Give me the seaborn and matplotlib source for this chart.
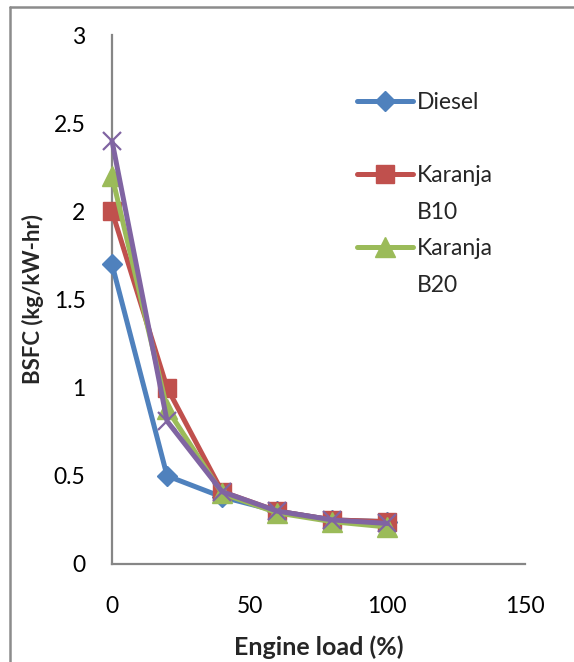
import matplotlib
matplotlib.use("Agg")
import matplotlib.pyplot as plt
from matplotlib.lines import Line2D
import seaborn as sns
import pandas as pd

# ---- data ----
engine_load = [0, 20, 40, 60, 80, 100]
diesel = [1.70, 0.50, 0.38, 0.30, 0.25, 0.24]
karanja_b10 = [2.00, 1.00, 0.41, 0.30, 0.25, 0.24]
karanja_b20 = [2.20, 0.88, 0.40, 0.29, 0.24, 0.21]
karanja_b30 = [2.40, 0.81, 0.41, 0.30, 0.25, 0.23]
x_ticks = [0, 50, 100, 150]
y_ticks = [0, 0.5, 1, 1.5, 2, 2.5, 3]
y_tick_labels = ["0", "0.5", "1", "1.5", "2", "2.5", "3"]

sns.set_theme(style="white")
plt.rcParams["font.family"] = ["Lato", "DejaVu Sans"]

W, H = 574, 662
fig = plt.figure(figsize=(W / 100, H / 100), dpi=100)
ax = fig.add_axes([112 / W, 1 - 564 / H, (525 - 112) / W, (564 - 35) / H])

series = [
    ("Diesel", diesel, "#4F81BD", "D", 10, 1.0),
    ("Karanja B10", karanja_b10, "#C0504D", "s", 13, 1.0),
    ("Karanja B20", karanja_b20, "#9BBB59", "^", 15, 1.0),
    ("Karanja B30", karanja_b30, "#8064A2", "x", 13, 1.6),
]
handles = {}
for name, vals, col, mk, ms, mew in series:
    df = pd.DataFrame({"load": engine_load, "bsfc": vals})
    sns.lineplot(data=df, x="load", y="bsfc", ax=ax, color=col, marker=mk,
                 markersize=ms, markeredgecolor=col, markerfacecolor=col,
                 markeredgewidth=mew, linewidth=3.6, legend=False,
                 clip_on=False, zorder=3)
    handles[name] = ax.lines[-1]

ax.set_xlim(0, 150)
ax.set_ylim(0, 3)
ax.set_xticks(x_ticks)
ax.set_xticklabels([str(t) for t in x_ticks])
ax.set_yticks(y_ticks)
ax.set_yticklabels(y_tick_labels)
ax.tick_params(axis="both", length=0, labelsize=16.5, colors="#000000")
ax.tick_params(axis="x", pad=23)
ax.tick_params(axis="y", pad=19)

for s in ["top", "right"]:
    ax.spines[s].set_visible(False)
for s in ["left", "bottom"]:
    ax.spines[s].set_color("#868686")
    ax.spines[s].set_linewidth(1.6)
ax.grid(False)

ax.set_xlabel("Engine load (%)", fontsize=18, fontweight="bold")
ax.set_ylabel("BSFC (kg/kW-hr)", fontsize=16, fontweight="bold")
ax.xaxis.set_label_coords(0.5, -(647 - 564) / (564 - 35), transform=ax.transAxes)
ax.yaxis.set_label_coords(-(112 - 33) / (525 - 112), 0.5)
ax.xaxis.label.set_va("center")
ax.yaxis.label.set_va("center")

def proxy(name):
    h = handles[name]
    return Line2D([], [], color=h.get_color(), marker=h.get_marker(),
                  markersize=h.get_markersize(), markeredgecolor=h.get_color(),
                  markerfacecolor=h.get_color(), linewidth=3.6)

blank = Line2D([], [], linestyle="none")
leg_handles = [proxy("Diesel"), blank, proxy("Karanja B10"), blank,
               proxy("Karanja B20"), blank]
leg_labels = ["Diesel", " ", "Karanja", "B10", "Karanja", "B20"]
fig.legend(leg_handles, leg_labels, loc="upper left",
           bbox_to_anchor=(357 / W, 1 - 92 / H), frameon=False,
           fontsize=16.5, handlelength=2.45, handletextpad=0.15,
           borderpad=0, borderaxespad=0, labelspacing=0.68)

# outer chart border (top and left visible in crop)
fig.add_artist(Line2D([10 / W, 10 / W], [0, 1 - 7 / H], transform=fig.transFigure,
                      color="#8C8C8C", linewidth=1.8))
fig.add_artist(Line2D([10 / W, 1], [1 - 7 / H, 1 - 7 / H], transform=fig.transFigure,
                      color="#8C8C8C", linewidth=1.8))

fig.savefig("out.png", dpi=100)
